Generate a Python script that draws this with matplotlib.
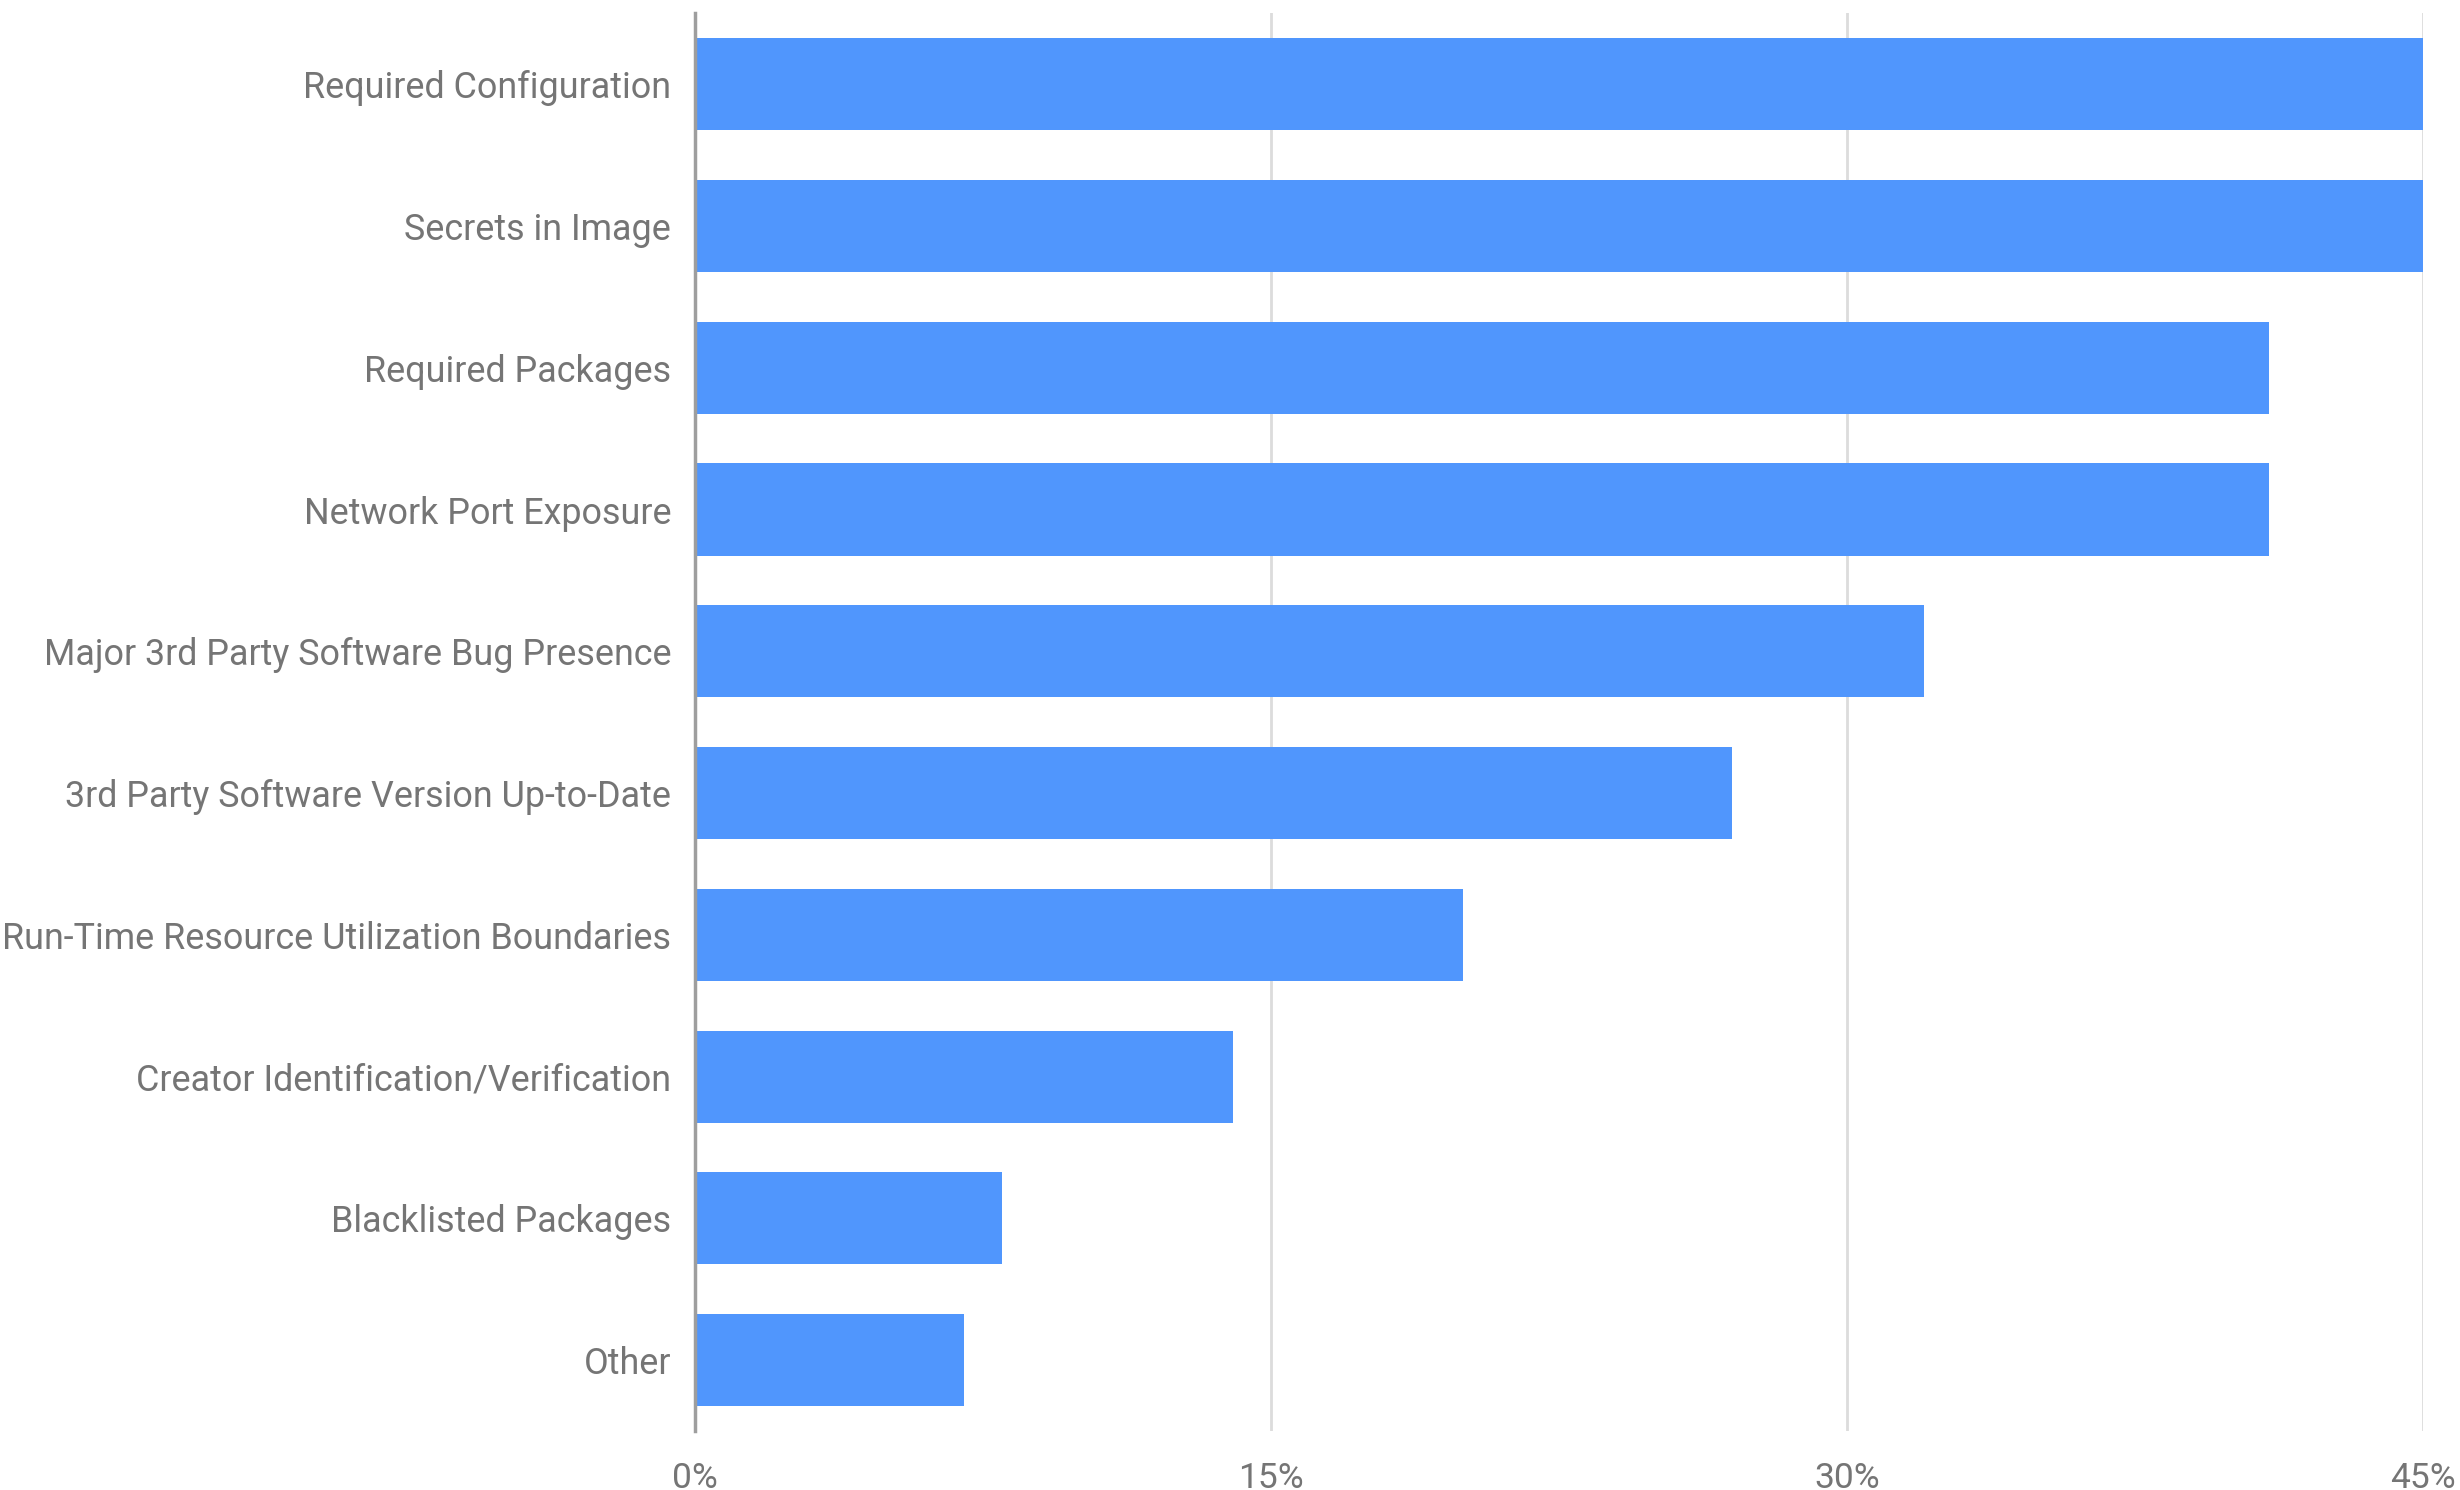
import matplotlib.pyplot as plt

# share of respondents per image check
categories = [
    "Required Configuration",
    "Secrets in Image",
    "Required Packages",
    "Network Port Exposure",
    "Major 3rd Party Software Bug Presence",
    "3rd Party Software Version Up-to-Date",
    "Run-Time Resource Utilization Boundaries",
    "Creator Identification/Verification",
    "Blacklisted Packages",
    "Other",
]
values = [45, 45, 41, 41, 32, 27, 20, 14, 8, 7]
ticks = [0, 15, 30, 45]

plt.rcParams['font.family'] = ['Roboto', 'DejaVu Sans']

fig = plt.figure(figsize=(24.6, 14.9), dpi=100)
ax = fig.add_axes([0.2825, 0.0396, 0.985 - 0.2825, 0.991 - 0.0396])

pos = list(range(len(categories)))
ax.barh(pos, values, height=0.65, color='#5096fd', zorder=2)

ax.set_ylim(len(categories) - 0.5, -0.5)
ax.set_xlim(0, 45)
ax.set_yticks(pos)
ax.set_yticklabels(categories)
ax.set_xticks(ticks)
ax.set_xticklabels([f"{t}%" for t in ticks])

ax.tick_params(axis='y', length=0, pad=17, labelsize=25.8, labelcolor='#757575')
ax.tick_params(axis='x', length=0, pad=22, labelsize=25.5, labelcolor='#757575')

ax.grid(axis='x', color='#dcdcdc', linewidth=2, zorder=0)
for side in ['top', 'right', 'bottom']:
    ax.spines[side].set_visible(False)
ax.spines['left'].set_color('#9e9e9e')
ax.spines['left'].set_linewidth(2.5)
ax.spines['left'].set_zorder(3)

fig.savefig('out.png', dpi=100)
